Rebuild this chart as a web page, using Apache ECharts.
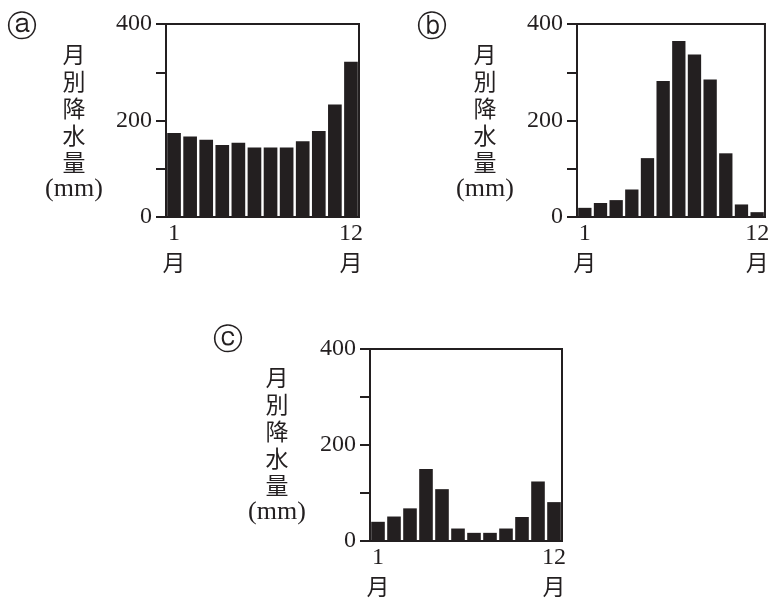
<!DOCTYPE html>
<html>
<head>
<meta charset="utf-8">
<script src="https://cdn.jsdelivr.net/npm/echarts@6/dist/echarts.min.js"></script>
<style>
html,body{margin:0;padding:0;background:#fff;}
#chart{width:772px;height:598px;}
</style>
</head>
<body>
<div id="chart"></div>
<script>
const months = ['1','2','3','4','5','6','7','8','9','10','11','12'];
const rainA = [174,167,160,149,154,144,144,144,157,178,233,322];
const rainB = [19,29,35,57,122,282,365,337,285,132,26,10];
const rainC = [40,51,68,150,108,26,17,17,26,50,124,81];
const yTickLabels = [0,200,400];
const panelLabels = ['ⓐ','ⓑ','ⓒ'];
const yTitleLines = ['月','別','降','水','量','(mm)'];
const monthSuffix = '月';

const ink = '#231f20';
const serif = '"Liberation Serif", "DejaVu Serif", serif';
const cjk = '"Noto Sans CJK JP", sans-serif';

const grids = [
  {left:166, top:24, width:193, height:193},
  {left:577, top:24, width:191, height:193},
  {left:370, top:349, width:192, height:192}
];
const seriesData = [rainA, rainB, rainC];

const option = {
  animation:false,
  backgroundColor:'#fff',
  grid: grids.map(g => Object.assign({show:true, borderColor:ink, borderWidth:2, backgroundColor:'transparent'}, g)),
  xAxis: grids.map((g,i) => ({
    type:'category', gridIndex:i, data:months,
    axisLine:{show:true, lineStyle:{color:ink, width:2}},
    axisTick:{show:false},
    axisLabel:{
      interval:0, margin:3, color:ink,
      formatter:(v,idx) => (idx===0 || idx===months.length-1) ? '{n|'+v+'}\n{k|'+monthSuffix+'}' : '',
      rich:{
        n:{fontFamily:serif, fontSize:24, lineHeight:28, color:ink},
        k:{fontFamily:cjk, fontSize:23, lineHeight:28, color:ink}
      }
    }
  })),
  yAxis: grids.map((g,i) => ({
    type:'value', gridIndex:i, min:0, max:400, interval:100,
    axisLine:{show:true, lineStyle:{color:ink, width:2}},
    axisTick:{show:true, length:10, lineStyle:{color:ink, width:2}},
    splitLine:{show:false},
    axisLabel:{
      margin:14, color:ink, fontFamily:serif, fontSize:24,
      formatter:v => yTickLabels.includes(v) ? String(v) : ''
    }
  })),
  series: seriesData.map((d,i) => ({
    type:'bar', xAxisIndex:i, yAxisIndex:i, data:d,
    barCategoryGap:'15%',
    itemStyle:{color:ink}
  })),
  graphic: [
    {pos:[22,28], ypos:[74,41]},
    {pos:[432,28], ypos:[485,41]},
    {pos:[228,341], ypos:[277,364]}
  ].flatMap((p,i) => [
    {type:'text', x:p.pos[0], y:p.pos[1], style:{text:panelLabels[i], fontFamily:'"DejaVu Sans", sans-serif', fontSize:30, fill:ink, align:'center', verticalAlign:'middle'}},
    {type:'text', x:p.ypos[0], y:p.ypos[1], style:{
      text: yTitleLines.map((t,j) => j===yTitleLines.length-1 ? '{m|'+t+'}' : '{k|'+t+'}').join('\n'),
      align:'center', verticalAlign:'top',
      rich:{
        k:{fontFamily:cjk, fontSize:23, lineHeight:27, fill:ink, align:'center'},
        m:{fontFamily:serif, fontSize:26, lineHeight:27, fill:ink, align:'center'}
      }
    }}
  ])
};

const chart = echarts.init(document.getElementById('chart'), null, {renderer:'canvas'});
chart.setOption(option);
</script>
</body>
</html>
